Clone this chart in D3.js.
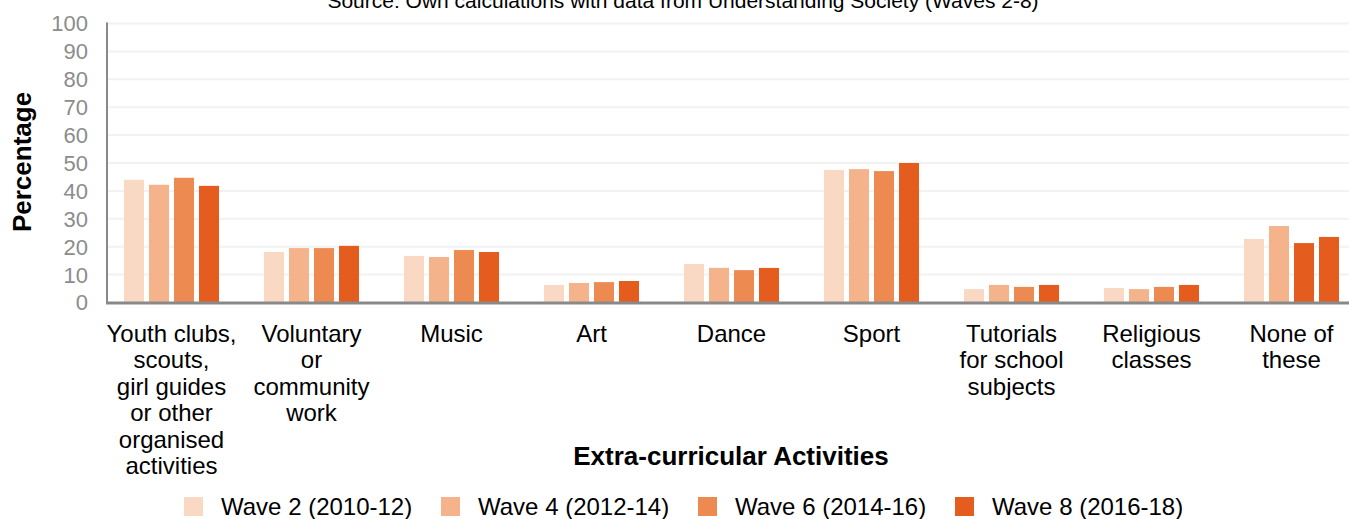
<!DOCTYPE html>
<html>
<head>
<meta charset="utf-8">
<script src="https://cdn.jsdelivr.net/npm/d3@7"></script>
<style>
  body { margin: 0; background: #fff; }
  svg { display: block; font-family: "Liberation Sans", Arial, sans-serif; }
</style>
</head>
<body>
<div id="chart"></div>
<script>
const categories = [
  ["Youth clubs,", "scouts,", "girl guides", "or other", "organised", "activities"],
  ["Voluntary", "or", "community", "work"],
  ["Music"],
  ["Art"],
  ["Dance"],
  ["Sport"],
  ["Tutorials", "for school", "subjects"],
  ["Religious", "classes"],
  ["None of", "these"]
];
const waves = ["Wave 2 (2010-12)", "Wave 4 (2012-14)", "Wave 6 (2014-16)", "Wave 8 (2016-18)"];
const wave2 = [44.0, 18.1, 16.7, 6.3, 13.8, 47.5, 4.8, 5.2, 22.8];
const wave4 = [42.2, 19.5, 16.3, 7.0, 12.4, 47.8, 6.3, 4.8, 27.4];
const wave6 = [44.7, 19.5, 18.8, 7.3, 11.6, 47.1, 5.6, 5.6, 21.3];
const wave8 = [41.8, 20.3, 18.1, 7.7, 12.4, 50.0, 6.3, 6.3, 23.5];
const yTicks = [0, 10, 20, 30, 40, 50, 60, 70, 80, 90, 100];

const series = [wave2, wave4, wave6, wave8];
const colors = ["#f9d9c4", "#f4b38b", "#ed8a52", "#e55c1f"];

const width = 1349, height = 519;
const margin = { left: 107, right: 1349, top: 23.5, bottom: 302.5 };

const svg = d3.select("#chart").append("svg")
  .attr("width", width)
  .attr("height", height);

const x = d3.scaleBand()
  .domain(d3.range(categories.length))
  .range([101.5, 1361.5])
  .padding(0);

const xInner = d3.scaleBand()
  .domain(d3.range(waves.length))
  .range([-47.5, 47.5])
  .paddingInner(0.2)
  .paddingOuter(0);

const y = d3.scaleLinear().domain([0, 100]).range([margin.bottom, margin.top]);

// source line, partly cut at the top like the original
svg.append("text")
  .attr("x", 683)
  .attr("y", 8)
  .attr("text-anchor", "middle")
  .style("font-size", "21px")
  .attr("fill", "#000")
  .text("Source: Own calculations with data from Understanding Society (Waves 2-8)");

// gridlines
svg.append("g")
  .selectAll("line")
  .data(yTicks.filter(d => d > 0))
  .join("line")
  .attr("x1", margin.left)
  .attr("x2", margin.right)
  .attr("y1", d => y(d))
  .attr("y2", d => y(d))
  .attr("stroke", "#f2f2f2")
  .attr("stroke-width", 2);

// y tick labels
svg.append("g")
  .selectAll("text")
  .data(yTicks)
  .join("text")
  .attr("x", 88)
  .attr("y", d => y(d))
  .attr("dy", "0.36em")
  .attr("text-anchor", "end")
  .attr("fill", "#8c8c8c")
  .style("font-size", "22px")
  .text(d => d);

// bars
const groups = svg.append("g")
  .selectAll("g")
  .data(categories)
  .join("g")
  .attr("transform", (d, i) => `translate(${x(i) + x.bandwidth() / 2},0)`);

groups.selectAll("rect")
  .data((d, i) => series.map((s, j) => ({ cat: i, wave: j, value: s[i] })))
  .join("rect")
  .attr("x", d => xInner(d.wave))
  .attr("width", xInner.bandwidth())
  .attr("y", d => y(d.value))
  .attr("height", d => y(0) - y(d.value))
  .attr("fill", d => (d.cat === 8 && d.wave === 2) ? colors[3] : colors[d.wave]);

// axes lines
svg.append("line")
  .attr("x1", margin.left).attr("x2", margin.left)
  .attr("y1", margin.top - 1).attr("y2", margin.bottom + 1.5)
  .attr("stroke", "#898989").attr("stroke-width", 2);

svg.append("line")
  .attr("x1", margin.left - 1).attr("x2", margin.right)
  .attr("y1", margin.bottom + 0.5).attr("y2", margin.bottom + 0.5)
  .attr("stroke", "#898989").attr("stroke-width", 3);

// category labels
groups.append("text")
  .attr("text-anchor", "middle")
  .attr("fill", "#000")
  .style("font-size", "24px")
  .selectAll("tspan")
  .data(d => d)
  .join("tspan")
  .attr("x", 0)
  .attr("y", (d, i) => 341.5 + i * 26.5)
  .text(d => d);

// axis titles
svg.append("text")
  .attr("x", 731)
  .attr("y", 465)
  .attr("text-anchor", "middle")
  .style("font-size", "26px")
  .style("font-weight", "bold")
  .text("Extra-curricular Activities");

svg.append("text")
  .attr("transform", "translate(31,162) rotate(-90)")
  .attr("text-anchor", "middle")
  .style("font-size", "26px")
  .style("font-weight", "bold")
  .text("Percentage");

// legend
const legend = svg.append("g")
  .selectAll("g")
  .data(waves)
  .join("g")
  .attr("transform", (d, i) => `translate(${184 + i * 257},497)`);

legend.append("rect")
  .attr("width", 19)
  .attr("height", 19)
  .attr("fill", (d, i) => colors[i]);

legend.append("text")
  .attr("x", 37)
  .attr("y", 18)
  .style("font-size", "24px")
  .text(d => d);
</script>
</body>
</html>
